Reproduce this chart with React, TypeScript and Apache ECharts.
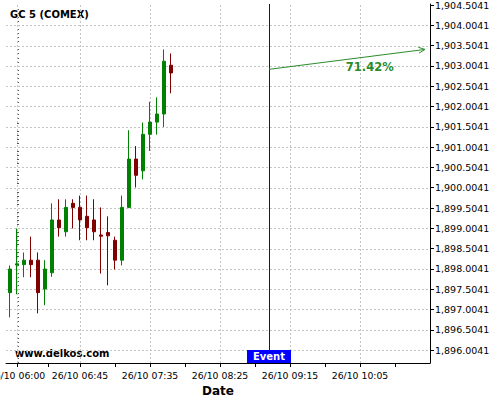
import React, { useEffect, useRef } from "react";
import * as echarts from "echarts";

const FONT = '"DejaVu Sans", sans-serif';
const TITLE = "GC 5 (COMEX)";
const WATERMARK = "www.delkos.com";
const X_NAME = "Date";

// minutes after 26/10 06:00
const candleTimes = [-5, 0, 5, 10, 15, 20, 25, 30, 35, 40, 45, 50, 55, 60, 65, 70, 75, 80, 85, 90, 95, 100, 105, 110];
const opens = [1897.42, 1898.10, 1898.11, 1898.22, 1898.22, 1897.51, 1897.91, 1899.21, 1898.92, 1899.62, 1899.52, 1899.30, 1899.21, 1898.84, 1898.90, 1898.71, 1898.22, 1899.52, 1900.71, 1900.42, 1901.32, 1901.62, 1901.82, 1903.02];
const closes = [1898.00, 1898.13, 1898.22, 1898.11, 1897.42, 1898.00, 1899.21, 1899.02, 1899.52, 1899.52, 1899.21, 1899.02, 1898.92, 1898.81, 1898.82, 1898.22, 1899.52, 1900.71, 1900.31, 1901.32, 1901.62, 1901.82, 1903.12, 1902.83];
const lows = [1896.81, 1897.38, 1897.80, 1897.80, 1896.91, 1897.11, 1897.81, 1898.80, 1898.80, 1899.00, 1898.71, 1898.71, 1898.71, 1897.89, 1897.60, 1897.99, 1898.09, 1899.50, 1900.01, 1900.21, 1900.91, 1901.31, 1901.50, 1902.33];
const highs = [1898.09, 1899.00, 1898.41, 1898.80, 1898.41, 1898.22, 1899.62, 1899.72, 1899.72, 1899.72, 1899.81, 1899.81, 1899.72, 1899.52, 1899.30, 1898.80, 1899.81, 1901.42, 1901.03, 1901.61, 1902.12, 1902.23, 1903.41, 1903.31];

const xLabelValues = [0, 45, 95, 145, 195, 245];
const xLabelTexts = ["26/10 06:00", "26/10 06:45", "26/10 07:35", "26/10 08:25", "26/10 09:15", "26/10 10:05"];
const xMinorTickValues = [22.5, 70, 120, 170, 220, 270];
const X_MIN = -7.86;
const X_MAX = 295;

const yTickValues = [1896.0041, 1896.5041, 1897.0041, 1897.5041, 1898.0041, 1898.5041, 1899.0041, 1899.5041, 1900.0041, 1900.5041, 1901.0041, 1901.5041, 1902.0041, 1902.5041, 1903.0041, 1903.5041, 1904.0041, 1904.5041];
const Y_MIN = 1895.6871;
const Y_MAX = 1904.529;
const Y_MINOR_SPLIT = 5;

const eventTime = 180;
const eventLabel = "Event";
const arrowFrom = [180, 1902.92];
const arrowTo = [291.4, 1903.41];
const arrowText = "71.42%";
const arrowTextAt = [252, 1902.975];

const GREEN = "#008000";
const RED = "#800000";
const ARROW = "#2a8c2a";
const GRID = "#c4c4c4";

export default function App() {
  const ref = useRef<HTMLDivElement>(null);
  useEffect(() => {
    if (!ref.current) return;
    const chart = echarts.init(ref.current, null, { renderer: "svg" });

    const yMinor: number[] = [];
    for (let i = 0; i < yTickValues.length; i++) {
      const step = 0.5 / Y_MINOR_SPLIT;
      for (let k = 1; k < Y_MINOR_SPLIT; k++) {
        const v = yTickValues[i] + k * step;
        if (v < Y_MAX) yMinor.push(v);
        const w = yTickValues[i] - k * step;
        if (i === 0 && w > Y_MIN) yMinor.push(w);
      }
    }
    const fmtPrice = (v: number) =>
      v.toLocaleString("en-US", { minimumFractionDigits: 4, maximumFractionDigits: 4 });

    chart.setOption({
      animation: false,
      grid: { left: 6, right: 70, top: 4, bottom: 37, containLabel: false, outerBoundsMode: "none" },
      xAxis: {
        type: "value",
        min: X_MIN,
        max: X_MAX,
        name: X_NAME,
        nameLocation: "middle",
        nameGap: 20,
        nameTextStyle: { fontFamily: FONT, fontWeight: "bold", fontSize: 12, color: "#000" },
        axisLine: { show: true, onZero: false, lineStyle: { color: "#000", width: 1 } },
        axisTick: {
          show: true,
          customValues: [...xLabelValues, ...xMinorTickValues],
          length: 4,
          lineStyle: { color: "#000" },
        },
        axisLabel: {
          customValues: xLabelValues,
          formatter: (v: number) => {
            const i = xLabelValues.findIndex((x) => Math.abs(x - v) < 1e-6);
            return i >= 0 ? xLabelTexts[i] : "";
          },
          fontFamily: FONT,
          fontSize: 9.3,
          color: "#000",
          margin: 8,
          hideOverlap: false,
        },
        splitLine: { show: false },
      },
      yAxis: [
        {
          type: "value",
          position: "right",
          min: Y_MIN,
          max: Y_MAX,
          axisLine: { show: true, onZero: false, lineStyle: { color: "#000", width: 1 } },
          axisTick: { show: true, customValues: yTickValues, length: 4, lineStyle: { color: "#000" } },
          axisLabel: {
            customValues: yTickValues,
            formatter: fmtPrice,
            fontFamily: FONT,
            fontSize: 9.5,
            color: "#000",
            margin: 5,
          },
          splitLine: { show: false },
        },
        {
          type: "value",
          position: "right",
          min: Y_MIN,
          max: Y_MAX,
          axisLine: { show: false },
          axisTick: { show: true, customValues: yMinor, length: 2, lineStyle: { color: "#555" } },
          axisLabel: { show: false },
          splitLine: { show: false },
        },
      ],
      series: [
        {
          type: "candlestick",
          yAxisIndex: 0,
          data: candleTimes.map((t, i) => [t, opens[i], closes[i], lows[i], highs[i]]),
          encode: { x: 0, y: [1, 2, 3, 4] },
          barWidth: 4,
          itemStyle: { color: GREEN, color0: RED, borderColor: GREEN, borderColor0: RED, borderWidth: 1 },
          z: 3,
          markLine: {
            silent: true,
            z: 1,
            symbol: ["none", "none"],
            label: { show: false },
            emphasis: { disabled: true },
            data: [
              ...xLabelValues.map((v) => ({ xAxis: v, lineStyle: { color: GRID, type: [2, 2], width: 1 } })),
              ...yTickValues
                .filter((v) => v < yTickValues[yTickValues.length - 1])
                .map((v) => ({ yAxis: v, lineStyle: { color: GRID, type: [2, 2], width: 1 } })),
              { xAxis: eventTime, lineStyle: { color: "#0000ff", type: "solid", width: 1 } },
              [
                { coord: arrowFrom, lineStyle: { color: ARROW, type: "solid", width: 1 } },
                { coord: arrowTo },
              ],
            ],
          },
          markPoint: {
            silent: true,
            z: 6,
            data: [
              {
                coord: [eventTime, Y_MIN + 0.16],
                symbol: "rect",
                symbolSize: [44, 13],
                itemStyle: { color: "#0000ff" },
                label: {
                  show: true,
                  position: "inside",
                  formatter: eventLabel,
                  color: "#fff",
                  fontFamily: FONT,
                  fontWeight: "bold",
                  fontSize: 10,
                },
              },
              {
                coord: arrowTextAt,
                symbol: "circle",
                symbolSize: 0,
                label: {
                  show: true,
                  position: "inside",
                  formatter: arrowText,
                  color: ARROW,
                  fontFamily: FONT,
                  fontWeight: "bold",
                  fontSize: 11.5,
                },
              },
            ],
          },
        },
      ],
      graphic: [
        {
          type: "text",
          id: "title",
          left: 10,
          top: 9,
          style: { text: TITLE, font: `bold 10px ${FONT}`, fill: "#000" },
        },
        {
          type: "text",
          id: "wm",
          left: 15,
          top: 348,
          style: { text: WATERMARK, font: `bold 10px ${FONT}`, fill: "#000" },
        },
      ],
    });
    const s = chart.convertToPixel({ gridIndex: 0 }, arrowFrom) as number[];
    const e = chart.convertToPixel({ gridIndex: 0 }, arrowTo) as number[];
    const ang = Math.atan2(e[1] - s[1], e[0] - s[0]);
    const L = 7;
    const a = (25 * Math.PI) / 180;
    const w1 = [e[0] - L * Math.cos(ang - a), e[1] - L * Math.sin(ang - a)];
    const w2 = [e[0] - L * Math.cos(ang + a), e[1] - L * Math.sin(ang + a)];
    chart.setOption({
      graphic: [
        {
          type: "polyline",
          id: "arrowhead",
          silent: true,
          z: 10,
          shape: { points: [w1, e, w2] },
          style: { stroke: ARROW, lineWidth: 1, fill: null },
        },
      ],
    });
    return () => chart.dispose();
  }, []);
  return <div ref={ref} style={{ position: "absolute", left: 0, top: 0, width: 500, height: 400 }} />;
}
